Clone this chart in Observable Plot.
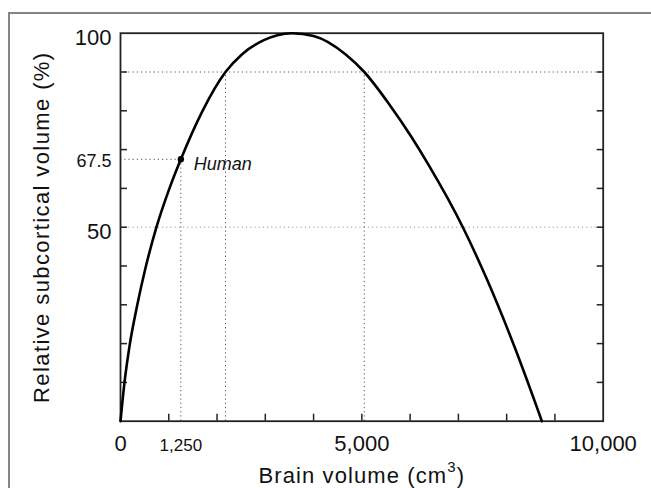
<!DOCTYPE html>
<html><head><meta charset="utf-8">
<script src="https://cdn.jsdelivr.net/npm/d3@7"></script>
<script src="https://cdn.jsdelivr.net/npm/@observablehq/plot@0.6"></script>
<style>
html,body{margin:0;padding:0;background:#fff;}
#wrap{position:relative;width:651px;height:488px;overflow:hidden;background:#fff;}
#chart{position:absolute;left:0;top:0;}
#border{position:absolute;left:8px;top:12px;width:700px;height:600px;border-left:2px solid #858585;border-top:2px solid #858585;pointer-events:none;}
</style></head><body>
<div id="wrap"><div id="chart"></div><div id="border"></div></div>
<script>
// Curve
const brainVolume = [0, 83, 190, 345, 520, 745, 1020, 1250, 1700, 2175, 2520, 2970, 3250, 3550, 4000, 4660, 5050, 5555, 6025, 6370, 7100, 7600, 8180, 8730];
const subcortical = [0, 10, 19.6, 29.8, 39.6, 50, 60.2, 67.5, 80, 90, 94.6, 98.2, 99.5, 100, 99.3, 94.6, 90, 81.9, 73.3, 66.3, 49.8, 36.3, 18.6, 0];

// Human point
const humanVolume = 1250;
const humanSubcortical = 67.5;
const humanLabel = "Human";

// Reference levels and crossings at 90%
const fullRefLevels = [90, 50];
const crossings90 = [2175, 5050];

// Axes
const xTicks = [1000, 2000, 3000, 4000, 5000, 6000, 7000, 8000, 9000];
const yTicks = [10, 20, 30, 40, 50, 60, 70, 80, 90];
const xBigLabels = [0, 5000, 10000];
const xBigText = ["0", "5,000", "10,000"];
const xSmallLabels = [1250];
const xSmallText = ["1,250"];
const yBigLabels = [100, 50];
const yBigText = ["100", "50"];
const ySmallLabels = [67.5];
const ySmallText = ["67.5"];
const xTitleMain = "Brain volume (cm";
const xTitleSup = "3";
const xTitleEnd = ")";
const xTitle = xTitleMain + xTitleSup + xTitleEnd;
const yTitle = "Relative subcortical volume (%)";

const curve = brainVolume.map((v, i) => ({x: v, y: subcortical[i]}));
const dotStyle = {stroke: "#555", strokeWidth: 1, strokeDasharray: "1.2,3"};

const chart = Plot.plot({
  width: 651, height: 488,
  marginLeft: 120, marginRight: 48.3, marginTop: 32.7, marginBottom: 67.3,
  x: {domain: [0, 10000], axis: null},
  y: {domain: [0, 100], axis: null},
  style: {fontFamily: "'Liberation Sans', Arial, Helvetica, sans-serif", background: "transparent", color: "#111"},
  marks: [
    Plot.ruleY([fullRefLevels[0]], {...dotStyle}),
    Plot.ruleY([fullRefLevels[1]], {...dotStyle, stroke: "#999"}),
    Plot.ruleY([humanSubcortical], {x1: 0, x2: humanVolume, ...dotStyle}),
    Plot.ruleX([humanVolume], {y1: 0, y2: humanSubcortical, ...dotStyle}),
    Plot.ruleX(crossings90, {y1: 0, y2: fullRefLevels[0], ...dotStyle}),
    Plot.axisX(xTicks, {anchor: "bottom", tickSize: -7, tickFormat: () => "", label: null, strokeWidth: 1.5, stroke: "#222"}),
    Plot.axisY(yTicks, {anchor: "left", tickSize: -7, tickFormat: () => "", label: null, strokeWidth: 1.5, stroke: "#222"}),
    Plot.axisY(yTicks, {anchor: "right", tickSize: -7, tickFormat: () => "", label: null, strokeWidth: 1.5, stroke: "#222"}),
    Plot.frame({stroke: "#222", strokeWidth: 1.8}),
    Plot.line(curve, {x: "x", y: "y", curve: "monotone-x", stroke: "#000", strokeWidth: 2.6}),
    Plot.dot([humanVolume], {x: d => d, y: () => humanSubcortical, r: 3.2, fill: "#000", stroke: null}),
    Plot.text([humanLabel], {x: () => humanVolume, y: () => humanSubcortical, text: d => d, dx: 13, dy: 10.5, textAnchor: "start", lineAnchor: "bottom", fontSize: 18, fontStyle: "italic", fill: "#111"}),
    Plot.text(xBigLabels, {x: d => d, frameAnchor: "bottom", text: (d, i) => xBigText[i], dy: 29.3, lineAnchor: "bottom", fontSize: 22, fill: "#111"}),
    Plot.text(xSmallLabels, {x: d => d, frameAnchor: "bottom", text: (d, i) => xSmallText[i], dy: 29.3, lineAnchor: "bottom", fontSize: 17, fill: "#111"}),
    Plot.text(yBigLabels, {y: d => d, frameAnchor: "left", text: (d, i) => yBigText[i], dx: -9, dy: 11.5, textAnchor: "end", lineAnchor: "bottom", fontSize: 22, fill: "#111"}),
    Plot.text(ySmallLabels, {y: d => d, frameAnchor: "left", text: (d, i) => ySmallText[i], dx: -9, dy: 7.9, textAnchor: "end", lineAnchor: "bottom", fontSize: 18, fill: "#111"}),
    Plot.text([xTitle], {frameAnchor: "bottom", text: d => d, dy: 62, textAnchor: "middle", lineAnchor: "bottom", fontSize: 22, fill: "#111"}),
    Plot.text([yTitle], {frameAnchor: "left", text: d => d, rotate: -90, dx: -71.7, textAnchor: "middle", lineAnchor: "bottom", fontSize: 22, fill: "#111"})
  ]
});
document.getElementById("chart").appendChild(chart);
const NS = "http://www.w3.org/2000/svg";
chart.querySelectorAll("text").forEach(t => {
  if (t.textContent === xTitle) {
    t.setAttribute("letter-spacing", "1.1");
    t.textContent = "";
    const a = document.createElementNS(NS, "tspan"); a.textContent = xTitleMain;
    const b = document.createElementNS(NS, "tspan"); b.textContent = xTitleSup;
    b.setAttribute("font-size", "15"); b.setAttribute("dy", "-11");
    const c = document.createElementNS(NS, "tspan"); c.textContent = xTitleEnd; c.setAttribute("dy", "11");
    t.append(a, b, c);
  }
  if (t.textContent === yTitle) t.setAttribute("letter-spacing", "1.4");
});
</script>
</body></html>
